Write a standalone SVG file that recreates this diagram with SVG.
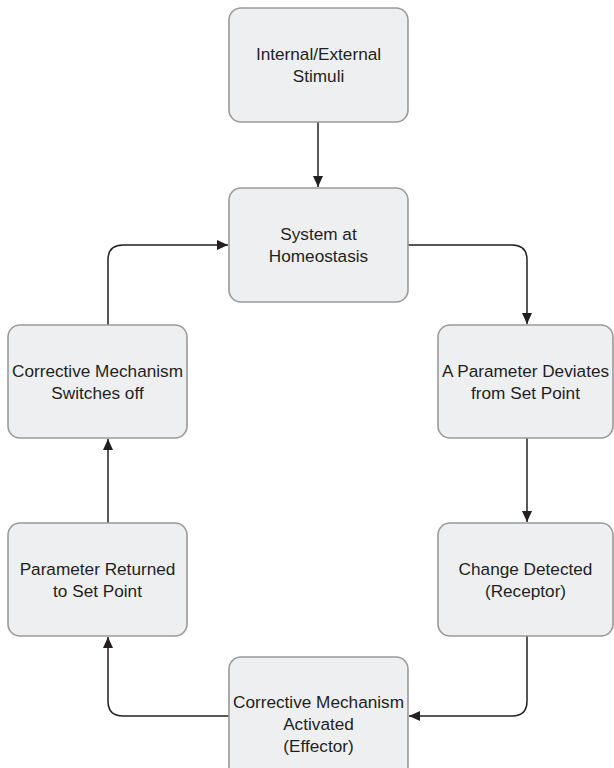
<svg xmlns="http://www.w3.org/2000/svg" width="614" height="768" viewBox="0 0 614 768">
<style>
.box{fill:#eeeff1;stroke:#9a9a9a;stroke-width:1.6}
.lbl{font-family:"Liberation Sans",Arial,sans-serif;font-size:17.2px;fill:#231f20;text-anchor:middle}
.con{fill:none;stroke:#231f20;stroke-width:1.5}
</style>
<defs>
<marker id="ah" viewBox="0 0 11 10" refX="11" refY="5" markerWidth="11" markerHeight="10" markerUnits="userSpaceOnUse" orient="auto">
<path d="M0,0 L11,5 L0,10 z" fill="#231f20"/>
</marker>
</defs>
<rect width="614" height="768" fill="#ffffff"/>
<g id="connectors">
<path class="con" d="M318,122 V187" marker-end="url(#ah)"/>
<path class="con" d="M408,245 H512 Q527,245 527,260 V324" marker-end="url(#ah)"/>
<path class="con" d="M527,438 V522" marker-end="url(#ah)"/>
<path class="con" d="M527,636 V701 Q527,716 512,716 H409" marker-end="url(#ah)"/>
<path class="con" d="M229,716 H123 Q108,716 108,701 V637" marker-end="url(#ah)"/>
<path class="con" d="M108,523 V439" marker-end="url(#ah)"/>
<path class="con" d="M108,325 V260 Q108,245 123,245 H228" marker-end="url(#ah)"/>
</g>
<g id="stimuli">
<rect class="box" x="229" y="8" width="179" height="114" rx="12"/>
<text class="lbl" x="318.5" y="60">Internal/External</text>
<text class="lbl" x="318.5" y="82">Stimuli</text>
</g>
<g id="homeostasis">
<rect class="box" x="229" y="188" width="179" height="114" rx="12"/>
<text class="lbl" x="318.5" y="240">System at</text>
<text class="lbl" x="318.5" y="262">Homeostasis</text>
</g>
<g id="deviates">
<rect class="box" x="438" y="325" width="175" height="113" rx="12"/>
<text class="lbl" x="525.5" y="377">A Parameter Deviates</text>
<text class="lbl" x="525.5" y="399">from Set Point</text>
</g>
<g id="detected">
<rect class="box" x="438" y="523" width="175" height="113" rx="12"/>
<text class="lbl" x="525.5" y="575">Change Detected</text>
<text class="lbl" x="525.5" y="597">(Receptor)</text>
</g>
<g id="activated">
<rect class="box" x="229" y="657" width="179" height="125" rx="12"/>
<text class="lbl" x="318.5" y="708">Corrective Mechanism</text>
<text class="lbl" x="318.5" y="730">Activated</text>
<text class="lbl" x="318.5" y="752">(Effector)</text>
</g>
<g id="returned">
<rect class="box" x="8" y="523" width="179" height="113" rx="12"/>
<text class="lbl" x="97.5" y="575">Parameter Returned</text>
<text class="lbl" x="97.5" y="597">to Set Point</text>
</g>
<g id="switches">
<rect class="box" x="8" y="325" width="179" height="113" rx="12"/>
<text class="lbl" x="97.5" y="377">Corrective Mechanism</text>
<text class="lbl" x="97.5" y="399">Switches off</text>
</g>
</svg>
